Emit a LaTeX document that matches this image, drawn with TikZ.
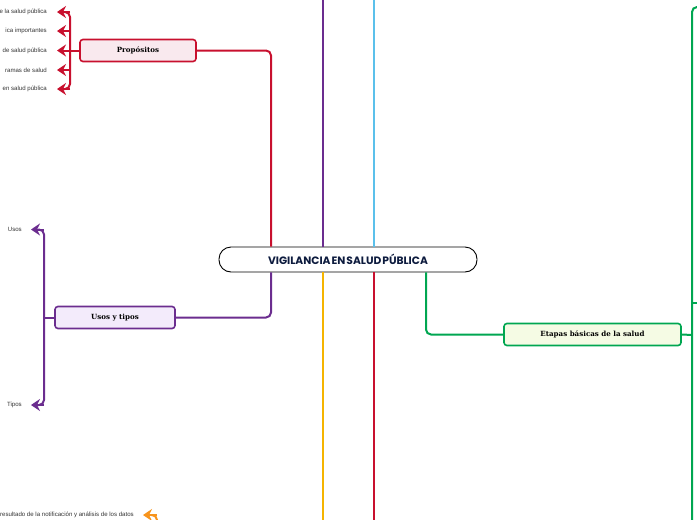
\documentclass[tikz,border=0pt]{standalone}
\usepackage{fontspec}
\setmainfont{DejaVu Serif}
\setsansfont{Liberation Sans}
\newfontfamily\titlefont{Poppins}
\usetikzlibrary{arrows.meta,calc}
\definecolor{crim}{HTML}{C8102E}
\definecolor{purp}{HTML}{6B2D8F}
\definecolor{lblue}{HTML}{5BC0EB}
\definecolor{gold}{HTML}{F5B400}
\definecolor{grn}{HTML}{00A651}
\definecolor{orng}{HTML}{F7941D}
\definecolor{navy}{HTML}{0D1B3E}
\definecolor{pinkf}{HTML}{F9E9EE}
\definecolor{lavf}{HTML}{F3EBFB}
\definecolor{limef}{HTML}{F5FBE4}
\tikzset{
  conn/.style={line width=2pt, rounded corners=5pt},
  arr/.style={line width=2pt, sharp corners, -{Stealth[length=9pt,width=12pt,inset=3pt]}},
  topicbox/.style={draw, line width=1.6pt, rounded corners=3pt, minimum height=22pt,
    font=\fontsize{7.1}{8}\selectfont\bfseries, inner sep=0pt},
  leaf/.style={anchor=east, font=\sffamily\fontsize{6.1}{7}\selectfont, text=black!80, inner sep=0pt},
  central/.style={draw, line width=0.9pt, rounded corners=12pt, fill=white,
    minimum width=258pt, minimum height=25pt, inner sep=0pt,
    font=\titlefont\bfseries\fontsize{10.7}{11}\selectfont, text=navy}
}
\begin{document}
\begin{tikzpicture}[x=1pt,y=-1pt]
\useasboundingbox (0,0) rectangle (697,520);
% central
\node[central] (c) at (348,259.5) {VIGILANCIA\kern1pt EN\kern1pt SALUD\kern1pt PÚBLICA};
% topic boxes
\node[topicbox, draw=crim, fill=pinkf, minimum width=116pt] (prop) at (138,50.5) {Propósitos};
\node[topicbox, draw=purp, fill=lavf, minimum width=120pt] (usos) at (115,317.5) {Usos y tipos};
\node[topicbox, draw=grn, fill=limef, minimum width=177pt] (etap) at (592.5,334.5) {Etapas básicas de la salud};
% branches from central
\draw[conn, crim] (prop.east) -| ($(c.north)+(-77,0)$);
\draw[conn, purp] ($(c.north)+(-25,0)$) -- ++(0,-260);
\draw[conn, lblue] ($(c.north)+(26,0)$) -- ++(0,-260);
\draw[conn, purp] ($(c.south)+(-77,0)$) |- (usos.east);
\draw[conn, gold] ($(c.south)+(-25,0)$) -- ++(0,260);
\draw[conn, crim] ($(c.south)+(26,0)$) -- ++(0,260);
\draw[conn, grn] ($(c.south)+(78,0)$) |- (etap.west);
% Propositos leaves
\coordinate (pb) at (70,50.5);
\node[leaf] (p1) at (47,12) {e la salud pública};
\node[leaf] (p2) at (47,31) {ica importantes};
\node[leaf] (p3) at (47,50.5) {de salud pública};
\node[leaf] (p4) at (47,70) {ramas de salud};
\node[leaf] (p5) at (47,89) {en salud pública};
\draw[conn, crim] (prop.west) -- (pb);
\draw[conn, crim] ($(p1.east)+(17,0)$) -| (pb) |- ($(p5.east)+(17,0)$);
\foreach \i in {1,...,5}{
  \draw[arr, crim] ($(p\i.east)+(23,0)$) -- ($(p\i.east)+(10,0)$);
}
% Usos y tipos leaves
\coordinate (ub) at (44,317.5);
\node[leaf] (u1) at (22,229.5) {Usos};
\node[leaf] (u2) at (22,405) {Tipos};
\draw[conn, purp] (usos.west) -- (ub);
\draw[conn, purp] ($(u1.east)+(16,0)$) -| (ub) |- ($(u2.east)+(16,0)$);
\draw[arr, purp] ($(u1.east)+(22,0)$) -- ($(u1.east)+(9,0)$);
\draw[arr, purp] ($(u2.east)+(22,0)$) -- ($(u2.east)+(9,0)$);
% orange leaf at bottom
\node[leaf] (o1) at (134,515) {resultado de la notificación y análisis de los datos};
\coordinate (ob) at (157,530);
\draw[conn, orng] (ob) |- ($(o1.east)+(17,0)$);
\draw[arr, orng] ($(o1.east)+(23,0)$) -- ($(o1.east)+(9,0)$);
% green right trunk
\coordinate (gb) at (692,335);
\coordinate (gt) at (702,7);
\coordinate (gd) at (692,530);
\draw[conn, grn] (etap.east) -- (gb);
\draw[conn, grn] (gt) -| (gd);
\draw[conn, grn] (692,303) -- (700,303);
\end{tikzpicture}
\end{document}
